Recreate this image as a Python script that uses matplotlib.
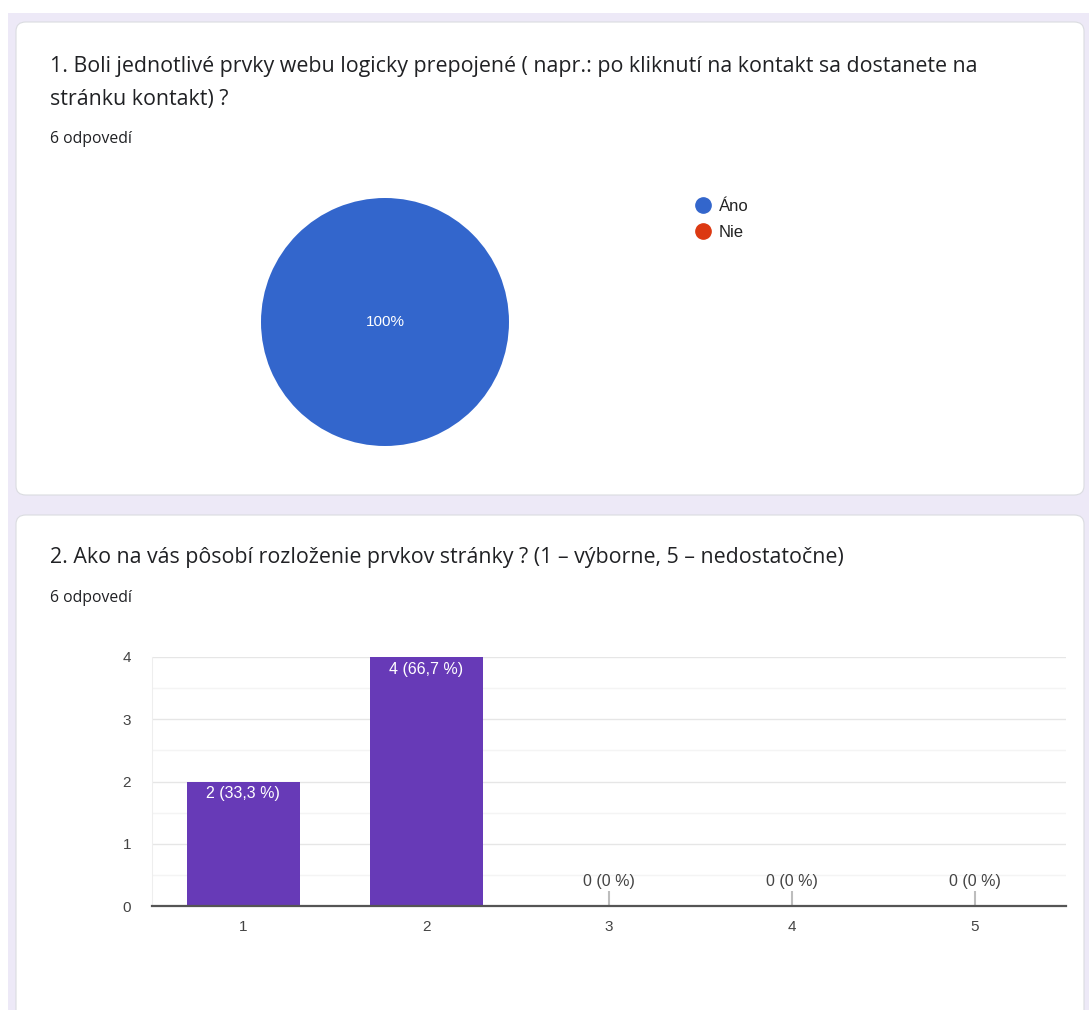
import numpy as np
import matplotlib.pyplot as plt
from matplotlib.patches import FancyBboxPatch, Rectangle
from matplotlib.lines import Line2D

# Otázka 1 - koláčový graf
otazka1 = ["1. Boli jednotlivé prvky webu logicky prepojené ( napr.: po kliknutí na kontakt sa dostanete na",
           "stránku kontakt) ?"]
odpovede1 = ["Áno", "Nie"]
pocty1 = [6, 0]
farby1 = ["#3366cc", "#dc3912"]

# Otázka 2 - stĺpcový graf
otazka2 = "2. Ako na vás pôsobí rozloženie prvkov stránky ? (1 – výborne, 5 – nedostatočne)"
hodnotenie = ["1", "2", "3", "4", "5"]
pocty2 = [2, 4, 0, 0, 0]
percenta2 = ["33,3 %", "66,7 %", "0 %", "0 %", "0 %"]
y_ticky = [0, 1, 2, 3, 4]
pocet_odpovedi = "6 odpovedí"

W, H = 1089, 1010
fig = plt.figure(figsize=(W / 100, H / 100), dpi=100)
fig.patch.set_facecolor("white")
plt.rcParams["font.family"] = ["Open Sans", "DejaVu Sans"]


def box(x, y, w, h):
    # pixely (zhora) -> súradnice figúry
    return [x / W, 1 - (y + h) / H, w / W, h / H]


def fy(y):
    return 1 - y / H


# pozadie a karty
fig.patches.append(Rectangle((8 / W, 0), 1, fy(13), transform=fig.transFigure,
                             facecolor="#ede9f7", edgecolor="none", zorder=-3))
for (x0, y0, x1, y1) in [(16, 22, 1084, 495), (16, 515, 1084, 1050)]:
    fig.patches.append(FancyBboxPatch((x0 / W, fy(y1)), (x1 - x0) / W, (y1 - y0) / H,
                                      boxstyle="round,pad=0,rounding_size=0.009",
                                      transform=fig.transFigure, facecolor="white",
                                      edgecolor="#dadce0", linewidth=0.8, zorder=-2))

text_farba = "#202124"
for i, riadok in enumerate(otazka1):
    fig.text(50 / W, fy(66 + 34 * i), riadok, fontsize=15.4, color=text_farba, va="center")
fig.text(50 / W, fy(139), pocet_odpovedi, fontsize=11.3, color=text_farba, va="center")
fig.text(50 / W, fy(558), otazka2, fontsize=15.4, color=text_farba, va="center")
fig.text(50 / W, fy(598), pocet_odpovedi, fontsize=11.3, color=text_farba, va="center")

# koláčový graf
ax1 = fig.add_axes(box(261, 198, 248, 248))
ax1.pie(pocty1, colors=farby1, startangle=90, counterclock=False,
        wedgeprops=dict(linewidth=0))
spolu = sum(pocty1)
for p in pocty1:
    if p == spolu:
        ax1.text(0, 0, f"{p / spolu * 100:.0f}%", color="white", fontsize=11,
                 ha="center", va="center", family=["Liberation Sans"])
ax1.set_aspect("equal")
ax1.set_xlim(-1, 1)
ax1.set_ylim(-1, 1)

handles = [Line2D([], [], marker="o", linestyle="none", markersize=11,
                  markerfacecolor=c, markeredgecolor=c) for c in farby1]
leg = fig.legend(handles, odpovede1, loc="upper left",
                 bbox_to_anchor=(683 / W, fy(192)), frameon=False,
                 handletextpad=0.15, handlelength=1.6, labelspacing=0.68,
                 borderaxespad=0, prop=dict(family="Liberation Sans", size=12))
for t in leg.get_texts():
    t.set_color("#222222")

# stĺpcový graf
ax2 = fig.add_axes(box(152, 657, 914, 249))
x = np.arange(len(hodnotenie))
ax2.bar(x, pocty2, width=0.62, color="#673ab7", zorder=3)
for xi, n, pc in zip(x, pocty2, percenta2):
    if n > 0:
        ax2.text(xi, n - 0.08, f"{n} ({pc})", color="white", ha="center", va="top",
                 fontsize=11.5, family="Liberation Sans", zorder=4)
    else:
        ax2.vlines(xi, 0, 0.24, color="#bdbdbd", linewidth=1.5, zorder=4)
        ax2.text(xi, 0.27, f"{n} ({pc})", color="#444444", ha="center", va="bottom",
                 fontsize=11.5, family="Liberation Sans", zorder=4)

ax2.set_xlim(-0.5, len(hodnotenie) - 0.5)
ax2.set_ylim(0, 4)
ax2.set_xticks(x)
ax2.set_xticklabels(hodnotenie)
ax2.set_yticks(y_ticky)
ax2.set_yticks(np.arange(0.5, 4, 1), minor=True)
ax2.grid(axis="y", which="major", color="#e6e6e6", linewidth=1, zorder=0)
ax2.grid(axis="y", which="minor", color="#f4f4f4", linewidth=1, zorder=0)
ax2.tick_params(which="both", length=0, labelsize=11, colors="#444444", pad=10)
ax2.tick_params(axis="y", pad=15)
for t in ax2.get_xticklabels() + ax2.get_yticklabels():
    t.set_family("Liberation Sans")
for s in ["top", "right"]:
    ax2.spines[s].set_visible(False)
ax2.spines["left"].set_color("#eeeeee")
ax2.spines["bottom"].set_color("#555555")
ax2.spines["bottom"].set_linewidth(1.6)
ax2.spines["bottom"].set_zorder(5)

fig.savefig("out.png", dpi=100)
